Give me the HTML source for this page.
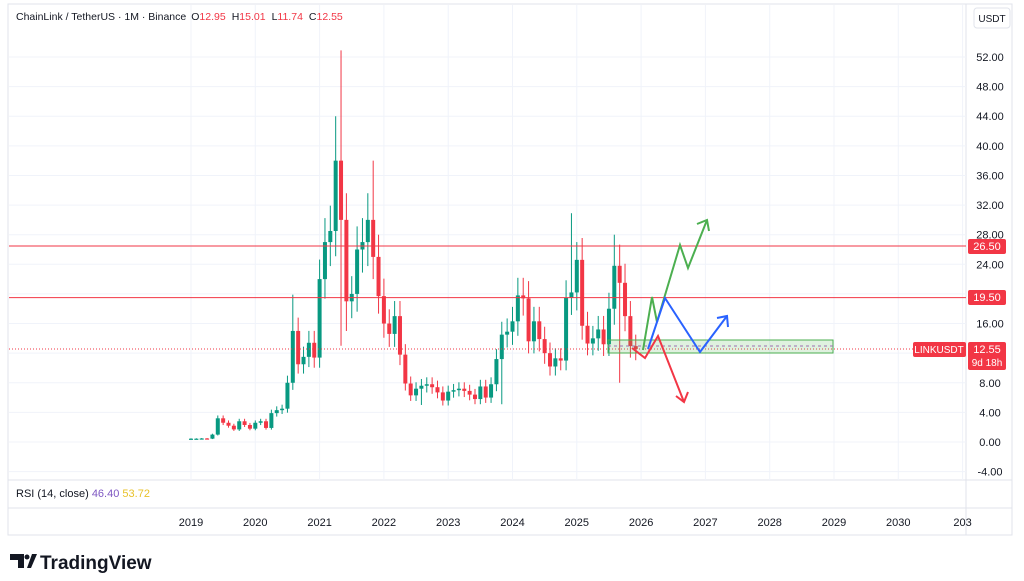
<!DOCTYPE html><html><head><meta charset="utf-8"><style>
body{margin:0;background:#fff;width:1024px;height:576px;overflow:hidden;font-family:"Liberation Sans","DejaVu Sans",sans-serif}
</style></head><body>
<svg id="s" width="1024" height="576" xmlns="http://www.w3.org/2000/svg" font-family="Liberation Sans, DejaVu Sans, sans-serif"></svg>
<script>
const s=document.getElementById('s');let h='';
const Y=p=>442-7.404*p, X0=191, MW=64.3/12;
h+='<rect x="8" y="4" width="1004" height="531" fill="#fff" stroke="#e0e3eb"/>';
h+='<line x1="8" y1="480" x2="1012" y2="480" stroke="#e0e3eb"/><line x1="8" y1="508" x2="1012" y2="508" stroke="#e0e3eb"/><line x1="966" y1="4" x2="966" y2="535" stroke="#e0e3eb"/>';
for(let p=-4;p<=52;p+=4){let y=Y(p);h+=`<line x1="9" y1="${y}" x2="966" y2="${y}" stroke="#f0f3fa"/><text x="990" y="${y+4}" font-size="11" fill="#131722" text-anchor="middle">${p.toFixed(2)}</text>`;}
const yrs=['2019','2020','2021','2022','2023','2024','2025','2026','2027','2028','2029','2030','203'];
yrs.forEach((t,i)=>{let x=X0+i*64.3;h+=`<line x1="${x}" y1="5" x2="${x}" y2="480" stroke="#f0f3fa"/><text x="${x}" y="526" font-size="11" fill="#131722" text-anchor="middle">${t}</text>`;});
const C=[.45,.45,.48,.45,1.0,3.2,2.6,2.2,1.7,2.8,2.3,1.8,2.6,2.8,1.9,3.9,4.3,4.5,8.0,15,10.5,11.5,13.4,11.4,22,27,28.5,38,30,19,20,26,27,30,25,19.7,16,14.6,17,11.8,7.9,6.3,7.2,7.6,7.8,7.4,6.7,5.6,6.8,7.0,7.2,6.9,6.4,5.8,7.5,6.0,7.8,11.2,14.5,14.9,16.3,19.8,19.4,13.6,16.3,13.9,12.0,10.2,11.3,11.0,19.5,20.2,24.6,15.7,13.3,14.0,15.2,13.2,18.0,23.8,21.5,17.0,12.95,12.55];
const HI={27:44,28:52.9,19:19.9,34:38,71:30.9,72:27,79:28};const LO={28:13,29:15,43:5,58:5.1,80:8};
let o=.35;
C.forEach((c,i)=>{let x=X0+i*MW,hi=HI[i]||Math.max(o,c)*1.12,lo=LO[i]||Math.min(o,c)*0.88,col=c>=o?'#089981':'#f23645';
let t=Y(Math.max(o,c)),b=Y(Math.min(o,c));if(b-t<1.2)b=t+1.2;
h+=`<line x1="${x}" y1="${Y(hi)}" x2="${x}" y2="${Y(lo)}" stroke="${col}"/><rect x="${x-2}" y="${t}" width="4" height="${b-t}" fill="${col}"/>`;o=c;});
h+=`<line x1="9" y1="246" x2="966" y2="246" stroke="#f23645"/><line x1="9" y1="297.6" x2="966" y2="297.6" stroke="#f23645"/>`;
h+=`<line x1="9" y1="349" x2="913" y2="349" stroke="#f23645" stroke-dasharray="1,2"/>`;
h+=`<rect x="608" y="340" width="225" height="13" fill="rgba(76,175,80,.18)" stroke="#4caf50"/><line x1="608" y1="346" x2="833" y2="346" stroke="#9c6fb0" stroke-dasharray="3,3"/>`;
h+=`<polyline points="643,350 652,297 657,322 680,245 688,268 707,220" fill="none" stroke="#4caf50" stroke-width="2"/><polyline points="697,224 707,220 709,231" fill="none" stroke="#4caf50" stroke-width="2"/>`;
h+=`<polyline points="648,349 665,298 700,352 727,316" fill="none" stroke="#2962ff" stroke-width="2"/><polyline points="717,318 727,316 728,327" fill="none" stroke="#2962ff" stroke-width="2"/>`;
h+=`<polyline points="632,348 645,358 658,336 684,402" fill="none" stroke="#f23645" stroke-width="2"/><polyline points="676,396 684,402 688,392" fill="none" stroke="#f23645" stroke-width="2"/>`;
h+=`<rect x="968" y="239" width="38" height="15" rx="2" fill="#f23645"/><text x="987" y="250" font-size="11" fill="#fff" text-anchor="middle">26.50</text>`;
h+=`<rect x="968" y="290" width="38" height="15" rx="2" fill="#f23645"/><text x="987" y="301" font-size="11" fill="#fff" text-anchor="middle">19.50</text>`;
h+=`<rect x="913" y="342" width="53" height="15" rx="2" fill="#f23645"/><text x="939" y="353" font-size="10" fill="#fff" text-anchor="middle">LINKUSDT</text>`;
h+=`<rect x="968" y="342" width="38" height="28" rx="2" fill="#f23645"/><text x="987" y="353" font-size="11" fill="#fff" text-anchor="middle">12.55</text><text x="987" y="366" font-size="10" fill="#fff" text-anchor="middle">9d 18h</text>`;
h+=`<rect x="974" y="8" width="36" height="20" rx="3" fill="#fff" stroke="#e0e3eb"/><text x="992" y="22" font-size="10" fill="#131722" text-anchor="middle">USDT</text>`;
h+=`<text x="16" y="20" font-size="10.5" fill="#131722">ChainLink / TetherUS · 1M · Binance<tspan dx="5">O</tspan><tspan fill="#f23645">12.95</tspan><tspan dx="6">H</tspan><tspan fill="#f23645">15.01</tspan><tspan dx="6">L</tspan><tspan fill="#f23645">11.74</tspan><tspan dx="6">C</tspan><tspan fill="#f23645">12.55</tspan></text>`;
h+=`<text x="16" y="497" font-size="11" fill="#131722">RSI (14, close) <tspan fill="#7e57c2">46.40</tspan> <tspan fill="#e8c22a">53.72</tspan></text>`;
h+=`<path d="M10 554h14v14h-6v-8h-8z" fill="#131722"/><circle cx="27" cy="557" r="2.5" fill="#131722"/><path d="M27 568l5-14h5l-6 14z" fill="#131722"/>`;
h+=`<text x="40" y="569" font-size="19" font-weight="bold" fill="#131722">TradingView</text>`;
s.innerHTML=h;
</script></body></html>
